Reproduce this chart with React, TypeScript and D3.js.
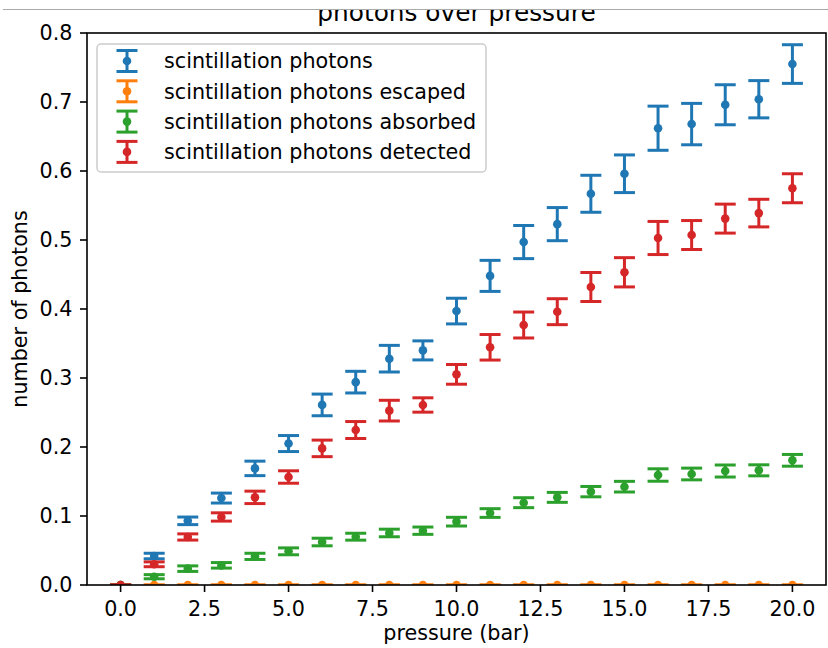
import React from "react";
import * as d3 from "d3";

const pressure = [0, 1, 2, 3, 4, 5, 6, 7, 8, 9, 10, 11, 12, 13, 14, 15, 16, 17, 18, 19, 20];
const scintillation = [0, 0.042, 0.093, 0.126, 0.169, 0.205, 0.261, 0.294, 0.328, 0.34, 0.397, 0.448, 0.497, 0.523, 0.567, 0.596, 0.662, 0.668, 0.696, 0.704, 0.755];
const scintillationErr = [0, 0.004, 0.0055, 0.0072, 0.0105, 0.0116, 0.0157, 0.0157, 0.0193, 0.0138, 0.0186, 0.0225, 0.024, 0.024, 0.0268, 0.0273, 0.032, 0.03, 0.029, 0.027, 0.028];
const escaped = [0, 0, 0, 0, 0, 0, 0, 0, 0, 0, 0, 0, 0, 0, 0, 0, 0, 0, 0, 0, 0];
const escapedErr = [0, 0, 0, 0, 0, 0, 0, 0, 0, 0, 0, 0, 0, 0, 0, 0, 0, 0, 0, 0, 0];
const absorbed = [0, 0.012, 0.0237, 0.0285, 0.0415, 0.0488, 0.0623, 0.07, 0.0754, 0.0787, 0.0918, 0.1043, 0.1193, 0.127, 0.1353, 0.1425, 0.1594, 0.1609, 0.1652, 0.1662, 0.1807];
const absorbedErr = [0, 0.003, 0.004, 0.004, 0.0045, 0.005, 0.0055, 0.005, 0.0055, 0.0053, 0.0063, 0.0063, 0.0072, 0.0072, 0.0075, 0.0077, 0.009, 0.0085, 0.0087, 0.008, 0.0085];
const detected = [0, 0.03, 0.0696, 0.0986, 0.127, 0.1565, 0.198, 0.2246, 0.2527, 0.2609, 0.3053, 0.3445, 0.3768, 0.3961, 0.4319, 0.4532, 0.5029, 0.5072, 0.531, 0.539, 0.575];
const detectedErr = [0, 0.0035, 0.0045, 0.006, 0.009, 0.009, 0.012, 0.0123, 0.015, 0.0104, 0.0143, 0.0185, 0.0188, 0.0188, 0.021, 0.0212, 0.024, 0.021, 0.021, 0.02, 0.021];

const seriesNames = [
  "scintillation photons",
  "scintillation photons escaped",
  "scintillation photons absorbed",
  "scintillation photons detected",
];
const seriesValues = [scintillation, escaped, absorbed, detected];
const seriesErrors = [scintillationErr, escapedErr, absorbedErr, detectedErr];
const colors = ["#1f77b4", "#ff7f0e", "#2ca02c", "#d62728"];

const xTicks = [0, 2.5, 5, 7.5, 10, 12.5, 15, 17.5, 20];
const yTicks = [0, 0.1, 0.2, 0.3, 0.4, 0.5, 0.6, 0.7, 0.8];

const W = 828;
const H = 648;
const left = 87;
const right = 826;
const top = 33;
const bottom = 585;
const FONT = "DejaVu Sans, sans-serif";
const FS = 20.7;

export default function App() {
  const x = d3.scaleLinear().domain([-1, 21]).range([left, right]);
  const y = d3.scaleLinear().domain([0, 0.8]).range([bottom, top]);
  const cap = 10.5;
  const lw = 3;
  const r = 4.3;

  return (
    <svg
      width={W}
      height={H}
      style={{ position: "absolute", left: 0, top: 0, background: "#fff" }}
      fontFamily={FONT}
    >
      <defs>
        <clipPath id="plot">
          <rect x={left} y={top} width={right - left} height={bottom - top} />
        </clipPath>
      </defs>
      <rect x={0} y={0} width={W} height={H} fill="#fff" />

      {/* title */}
      <text x={(left + right) / 2} y={21} fontSize={24.8} textAnchor="middle" fill="#000">
        photons over pressure
      </text>
      <rect x={0} y={0} width={W} height={9} fill="#fff" />
      <line x1={3} x2={W} y1={9.5} y2={9.5} stroke="#aaa" strokeWidth={1} />

      {/* data */}
      <g clipPath="url(#plot)">
        {seriesValues.map((vals, si) => (
          <g key={si}>
            {vals.map((v, i) => {
              const e = seriesErrors[si][i];
              const cx = x(pressure[i]);
              return (
                <g key={i}>
                  <line x1={cx} x2={cx} y1={y(v - e)} y2={y(v + e)} stroke={colors[si]} strokeWidth={lw} />
                  <line x1={cx - cap} x2={cx + cap} y1={y(v - e)} y2={y(v - e)} stroke={colors[si]} strokeWidth={lw} />
                  <line x1={cx - cap} x2={cx + cap} y1={y(v + e)} y2={y(v + e)} stroke={colors[si]} strokeWidth={lw} />
                </g>
              );
            })}
            {vals.map((v, i) => (
              <circle key={"m" + i} cx={x(pressure[i])} cy={y(v)} r={r} fill={colors[si]} />
            ))}
          </g>
        ))}
      </g>

      {/* spines */}
      <rect x={left} y={top} width={right - left} height={bottom - top} fill="none" stroke="#000" strokeWidth={1.6} />

      {/* x ticks */}
      {xTicks.map((t) => (
        <g key={"x" + t}>
          <line x1={x(t)} x2={x(t)} y1={bottom} y2={bottom + 7} stroke="#000" strokeWidth={1.6} />
          <text x={x(t)} y={616} fontSize={FS} textAnchor="middle" fill="#000">
            {t.toFixed(1)}
          </text>
        </g>
      ))}
      {/* y ticks */}
      {yTicks.map((t) => (
        <g key={"y" + t}>
          <line x1={left - 7} x2={left} y1={y(t)} y2={y(t)} stroke="#000" strokeWidth={1.6} />
          <text x={left - 14.5} y={y(t)} dy="0.36em" fontSize={FS} textAnchor="end" fill="#000">
            {t.toFixed(1)}
          </text>
        </g>
      ))}

      {/* axis labels */}
      <text x={(left + right) / 2} y={640} fontSize={FS} textAnchor="middle" fill="#000">
        pressure (bar)
      </text>
      <text
        transform={`translate(27,${(top + bottom) / 2}) rotate(-90)`}
        fontSize={FS}
        textAnchor="middle"
        fill="#000"
      >
        number of photons
      </text>

      {/* legend */}
      <rect x={97} y={44} width={389} height={128} rx={4} ry={4} fill="#fff" fillOpacity={0.8} stroke="#cccccc" strokeWidth={1.5} />
      {seriesNames.map((name, i) => {
        const cy = 61 + i * 30.3;
        const cx = 127;
        const hh = 10.5;
        return (
          <g key={"l" + i}>
            <line x1={cx} x2={cx} y1={cy - hh} y2={cy + hh} stroke={colors[i]} strokeWidth={lw} />
            <line x1={cx - cap} x2={cx + cap} y1={cy - hh} y2={cy - hh} stroke={colors[i]} strokeWidth={lw} />
            <line x1={cx - cap} x2={cx + cap} y1={cy + hh} y2={cy + hh} stroke={colors[i]} strokeWidth={lw} />
            <circle cx={cx} cy={cy} r={r} fill={colors[i]} />
            <text x={164} y={cy} dy="0.36em" fontSize={FS} fill="#000">
              {name}
            </text>
          </g>
        );
      })}
    </svg>
  );
}
